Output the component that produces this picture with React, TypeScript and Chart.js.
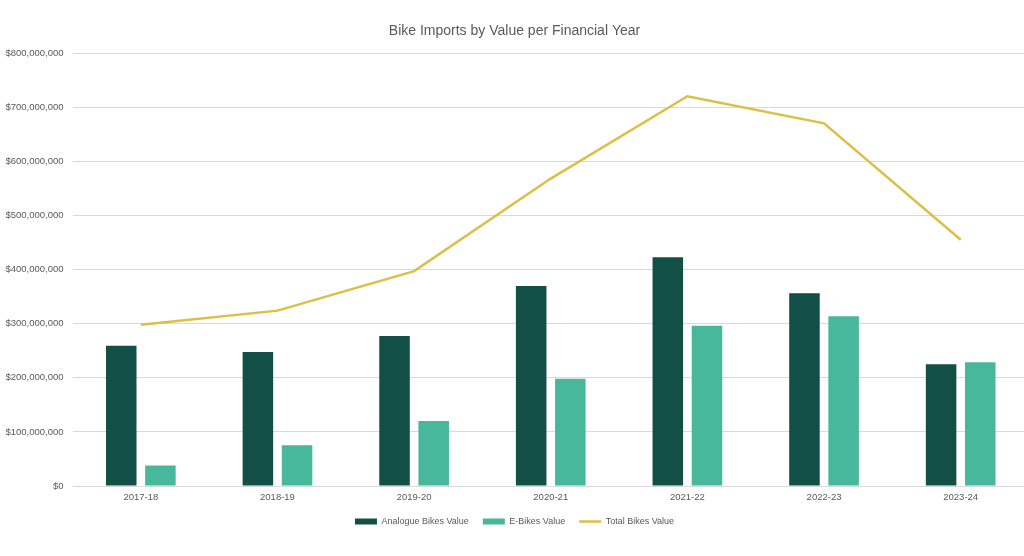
import React, { useEffect, useRef } from "react";
import { Chart, registerables } from "chart.js";

Chart.register(...registerables);

const categories = ["2017-18", "2018-19", "2019-20", "2020-21", "2021-22", "2022-23", "2023-24"];
const analogueValues = [259000000, 247500000, 277000000, 369500000, 422500000, 356000000, 225000000];
const eBikeValues = [38000000, 75500000, 120000000, 198000000, 296000000, 313500000, 228500000];
const totalValues = [298000000, 324000000, 397000000, 568000000, 720000000, 670000000, 455000000];
const yTicks = [0, 100000000, 200000000, 300000000, 400000000, 500000000, 600000000, 700000000, 800000000];

const fmt = (v: number) => (v === 0 ? "$0" : "$" + v.toLocaleString("en-US"));

export default function App() {
  const ref = useRef<HTMLCanvasElement | null>(null);
  useEffect(() => {
    if (!ref.current) return;
    const tickFont = { family: "'Liberation Sans', Arial, sans-serif", size: 9.5 };
    const chart = new Chart(ref.current, {
      type: "bar",
      data: {
        labels: categories,
        datasets: [
          {
            type: "line",
            label: "Total Bikes Value",
            data: totalValues,
            borderColor: "#DDBF45",
            backgroundColor: "#DDBF45",
            borderWidth: 2.5,
            pointRadius: 0,
            pointStyle: "line",
            tension: 0,
            order: 0,
          } as any,
          {
            label: "Analogue Bikes Value",
            data: analogueValues,
            backgroundColor: "#124F46",
            pointStyle: "rect",
            barPercentage: 0.78,
            categoryPercentage: 0.573,
            order: 1,
          },
          {
            label: "E-Bikes Value",
            data: eBikeValues,
            backgroundColor: "#47B89B",
            pointStyle: "rect",
            barPercentage: 0.78,
            categoryPercentage: 0.573,
            order: 1,
          },
        ],
      },
      options: {
        animation: false,
        responsive: false,
        maintainAspectRatio: false,
        layout: { padding: { left: 0, right: 13, top: 0, bottom: 20 } },
        plugins: {
          title: {
            display: true,
            text: "Bike Imports by Value per Financial Year",
            color: "#595959",
            font: { family: "'Liberation Sans', sans-serif", size: 14, weight: "normal" },
            padding: { top: 23, bottom: 13.2 },
          },
          legend: {
            position: "bottom",
            labels: {
              color: "#595959",
              font: { family: "'Liberation Sans', Arial, sans-serif", size: 9 },
              usePointStyle: true,
              pointStyleWidth: 22,
              boxWidth: 22,
              boxHeight: 6,
              padding: 14,
              sort: (a: any, b: any) => {
                const order = ["Analogue Bikes Value", "E-Bikes Value", "Total Bikes Value"];
                return order.indexOf(a.text) - order.indexOf(b.text);
              },
            },
          },
          tooltip: { enabled: false },
        },
        scales: {
          x: {
            grid: { display: false, drawTicks: false },
            border: { display: false },
            ticks: { color: "#595959", font: tickFont, padding: 6 },
            afterFit: (scale: any) => {
              scale.height = 17;
            },
          },
          y: {
            min: 0,
            max: 800000000,
            afterBuildTicks: (scale: any) => {
              scale.ticks = yTicks.map((v) => ({ value: v }));
            },
            afterFit: (scale: any) => {
              scale.width = 72.5;
            },
            grid: { color: "#D9D9D9", drawTicks: false, lineWidth: 1 },
            border: { display: false },
            ticks: {
              color: "#595959",
              font: tickFont,
              padding: 9,
              callback: (v: any) => fmt(Number(v)),
            },
          },
        },
      },
    } as any);
    return () => chart.destroy();
  }, []);
  return (
    <div style={{ position: "fixed", left: 0, top: 0, width: 1042, height: 556, background: "#fff" }}>
      <canvas ref={ref} width={1042} height={556} style={{ width: 1042, height: 556 }} />
    </div>
  );
}
